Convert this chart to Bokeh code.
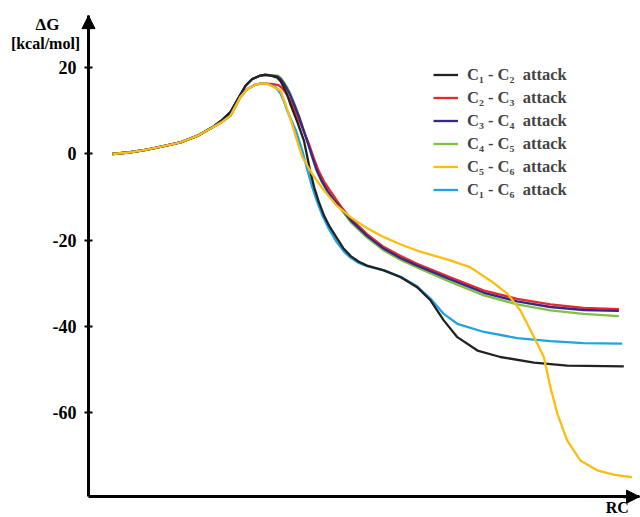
from bokeh.plotting import figure
from bokeh.models import Range1d, Arrow, NormalHead, Label, Legend, LegendItem, FixedTicker
from bokeh.embed import file_html
from bokeh.resources import INLINE

# ---- data ----
y_ticks = [-60, -40, -20, 0, 20]
y_tick_labels = ["-60", "-40", "-20", "0", "20"]

rc_c1c2 = [4.4, 7.7, 10.8, 13.8, 16.9, 20.0, 23.0, 24.6, 26.1, 27.3, 28.9, 30.1, 31.6, 32.5, 33.5, 34.7,
           35.3, 35.9, 36.5, 37.1, 38.4, 39.6, 40.2, 40.8, 41.5, 42.3, 43.3, 44.3, 45.4, 46.8, 48.2, 49.7,
           51.2, 54.3, 57.4, 60.4, 62.9, 65.3, 67.8, 71.5, 75.7, 81.9, 88.0, 98.4]
dg_c1c2 = [0, 0.4, 1.0, 1.8, 2.7, 4.2, 6.4, 7.9, 9.7, 12.4, 15.9, 17.4, 18.2, 18.4, 18.2, 17.7,
           16.9, 15.5, 13.8, 11.6, 7.4, 3.1, -0.6, -4.2, -7.8, -11.0, -14.3, -16.8, -19.0, -21.8, -23.7, -25.0,
           -25.9, -27.0, -28.6, -30.9, -34.0, -38.6, -42.5, -45.6, -47.1, -48.4, -49.1, -49.3]

rc_c2c3 = [4.4, 7.7, 10.8, 13.8, 16.9, 20.0, 23.0, 24.6, 26.1, 27.9, 29.2, 30.7, 31.8, 32.8, 34.0, 35.0,
           35.6, 36.2, 36.8, 37.4, 39.0, 40.5, 41.4, 42.3, 43.3, 44.5, 46.3, 48.2, 51.2, 54.3, 57.4, 60.4,
           66.5, 72.7, 78.8, 84.9, 91.0, 97.5]
dg_c2c3 = [0, 0.4, 1.0, 1.8, 2.7, 4.2, 6.3, 7.5, 8.9, 13.2, 15.1, 16.1, 16.4, 16.3, 16.2, 15.9,
           15.3, 14.3, 13.1, 11.6, 7.0, 2.4, -0.9, -3.9, -6.4, -8.7, -12.0, -15.0, -18.6, -21.6, -23.7, -25.5,
           -28.6, -31.7, -33.6, -34.9, -35.7, -36.0]

rc_c3c4 = [4.4, 7.7, 10.8, 13.8, 16.9, 20.0, 23.0, 24.6, 26.1, 27.3, 28.9, 30.1, 31.6, 32.5, 33.5, 34.7,
           35.3, 35.9, 36.5, 37.1, 37.9, 38.7, 40.2, 41.1, 41.9, 42.8, 43.9, 45.0, 46.3, 48.2, 51.2, 54.3,
           57.4, 60.4, 66.5, 72.7, 78.8, 84.9, 91.0, 97.5]
dg_c3c4 = [0, 0.4, 1.0, 1.8, 2.7, 4.2, 6.4, 7.9, 9.7, 12.4, 15.9, 17.4, 18.2, 18.3, 18.2, 18.0,
           17.4, 16.4, 15.1, 13.6, 11.2, 8.6, 3.0, -0.5, -3.6, -6.1, -8.5, -10.5, -12.4, -15.4, -19.0, -22.0,
           -24.2, -25.9, -29.1, -32.2, -34.2, -35.5, -36.2, -36.4]

rc_c4c5 = [4.4, 7.7, 10.8, 13.8, 16.9, 20.0, 23.0, 24.6, 26.1, 27.3, 28.9, 30.1, 31.6, 32.5, 33.5, 34.7,
           35.3, 35.9, 36.5, 37.1, 37.9, 38.7, 40.2, 41.1, 41.9, 42.8, 43.9, 45.0, 46.3, 48.2, 51.2, 54.3,
           57.4, 60.4, 66.5, 72.7, 78.8, 84.9, 91.0, 97.5]
dg_c4c5 = [0, 0.4, 1.0, 1.8, 2.7, 4.2, 6.4, 7.9, 9.7, 12.4, 15.9, 17.4, 18.2, 18.4, 18.3, 18.2,
           17.7, 16.7, 15.5, 14.0, 11.5, 8.9, 3.1, -0.7, -3.8, -6.3, -8.7, -10.7, -12.6, -15.8, -19.4, -22.4,
           -24.6, -26.3, -29.7, -32.8, -34.9, -36.3, -37.1, -37.6]

rc_c5c6 = [4.4, 7.7, 10.8, 13.8, 16.9, 20.0, 23.0, 24.6, 26.1, 27.9, 29.2, 30.7, 31.8, 32.8, 34.4, 35.3,
           36.2, 37.4, 38.7, 39.3, 41.1, 43.3, 45.5, 48.2, 51.2, 54.3, 57.4, 60.4, 63.5, 66.5, 70.2, 73.9,
           77.0, 79.4, 81.9, 83.7, 84.9, 86.2, 88.0, 90.4, 93.5, 96.5, 99.9]
dg_c5c6 = [0, 0.4, 1.0, 1.8, 2.7, 4.2, 6.3, 7.5, 8.9, 13.2, 15.1, 16.1, 16.4, 16.3, 15.3, 14.7,
           11.6, 7.0, 1.6, -0.7, -4.6, -8.5, -11.8, -14.7, -17.2, -19.3, -21.0, -22.4, -23.6, -24.7, -26.3, -29.4,
           -32.4, -36.3, -42.5, -47.1, -54.1, -60.3, -66.5, -71.1, -73.4, -74.4, -75.0]

rc_c1c6 = [4.4, 7.7, 10.8, 13.8, 16.9, 20.0, 23.0, 24.6, 26.1, 27.9, 29.2, 30.7, 31.8, 32.8, 34.4, 35.3,
           35.9, 36.5, 38.1, 39.3, 40.2, 41.1, 42.0, 43.0, 44.2, 45.6, 47.0, 48.2, 49.7, 51.2, 54.3, 57.4,
           60.4, 62.9, 65.3, 67.8, 72.7, 78.8, 84.9, 91.0, 98.1]
dg_c1c6 = [0, 0.4, 1.0, 1.8, 2.7, 4.2, 6.3, 7.5, 8.9, 13.2, 15.1, 16.1, 16.4, 16.3, 15.5, 14.0,
           12.3, 10.1, 5.5, 0.8, -3.6, -7.6, -11.0, -14.3, -17.4, -20.4, -22.7, -24.1, -25.3, -26.0, -27.0, -28.5,
           -30.7, -33.6, -37.1, -39.4, -41.3, -42.7, -43.4, -43.9, -44.0]

labels = ["C\u2081 - C\u2082  attack", "C\u2082 - C\u2083  attack", "C\u2083 - C\u2084  attack",
          "C\u2084 - C\u2085  attack", "C\u2085 - C\u2086  attack", "C\u2081 - C\u2086  attack"]
colors = ["#222222", "#e8282b", "#35288a", "#7cc243", "#fbbd12", "#1fa3e3"]

FONT = "Liberation Serif"
X0, X1 = 0, 101.3       # RC axis extent
Y0, Y1 = -79.5, 32.1    # dG axis extent

p = figure(width=640, height=517, x_range=Range1d(-16.18, 101.47), y_range=Range1d(-84.34, 35.61),
           output_backend="svg", toolbar_location=None,
           min_border_left=0, min_border_right=0, min_border_top=0, min_border_bottom=0)
p.grid.visible = False
p.outline_line_color = None

series = [(rc_c1c2, dg_c1c2), (rc_c2c3, dg_c2c3), (rc_c3c4, dg_c3c4),
          (rc_c4c5, dg_c4c5), (rc_c5c6, dg_c5c6), (rc_c1c6, dg_c1c6)]
draw_order = [3, 1, 2, 5, 0, 4]
renderers = [None] * 6
for i in draw_order:
    xs, ys = series[i]
    renderers[i] = p.line(xs, ys, line_color=colors[i], line_width=2.3, line_join="round")

# axes placed inside the frame at fixed data locations
p.yaxis.fixed_location = X0
p.yaxis.bounds = (Y0, Y1)
p.yaxis.ticker = FixedTicker(ticks=y_ticks)
p.yaxis.major_label_overrides = {t: s for t, s in zip(y_ticks, y_tick_labels)}
p.yaxis.axis_line_width = 3
p.yaxis.major_tick_line_width = 2
p.yaxis.major_tick_in = 4
p.yaxis.major_tick_out = 4
p.yaxis.minor_tick_line_color = None
p.yaxis.major_label_standoff = 8
p.yaxis.major_label_text_font = FONT
p.yaxis.major_label_text_font_style = "bold"
p.yaxis.major_label_text_font_size = "18px"
p.yaxis.major_label_text_color = "black"

p.xaxis.fixed_location = Y0
p.xaxis.bounds = (X0, X1)
p.xaxis.ticker = FixedTicker(ticks=[])
p.xaxis.axis_line_width = 3
p.xaxis.minor_tick_line_color = None
p.xaxis.major_tick_line_color = None
p.xaxis.major_label_text_font_size = "0px"

# arrow heads
p.add_layout(Arrow(end=NormalHead(size=13, fill_color="black", line_color="black"),
                   x_start=X0, y_start=Y1 - 3, x_end=X0, y_end=Y1, line_width=3, line_color="black"))
p.add_layout(Arrow(end=NormalHead(size=13, fill_color="black", line_color="black"),
                   x_start=X1 - 3, y_start=Y0, x_end=X1, y_end=Y0, line_width=3, line_color="black"))

# axis titles
p.add_layout(Label(x=-7.54, y=30.05, text="\u0394G", text_align="center", text_baseline="middle",
                   text_font=FONT, text_font_style="bold", text_font_size="17px", text_color="black"))
p.add_layout(Label(x=-7.9, y=25.64, text="[kcal/mol]", text_align="center", text_baseline="middle",
                   text_font=FONT, text_font_style="bold", text_font_size="16px", text_color="black"))
p.add_layout(Label(x=97.2, y=-82.0, text="RC", text_align="center", text_baseline="middle",
                   text_font=FONT, text_font_style="bold", text_font_size="16px", text_color="black"))

items = [LegendItem(label=labels[i], renderers=[renderers[i]]) for i in range(6)]
legend = Legend(items=items, location=(433, 316), padding=0, spacing=0, margin=0,
                border_line_color=None, background_fill_alpha=0,
                glyph_width=25, glyph_height=23, label_height=23, label_standoff=9,
                label_text_font=FONT, label_text_font_style="bold", label_text_font_size="16.5px")
p.add_layout(legend)

open("out.html", "w").write(file_html(p, INLINE))
